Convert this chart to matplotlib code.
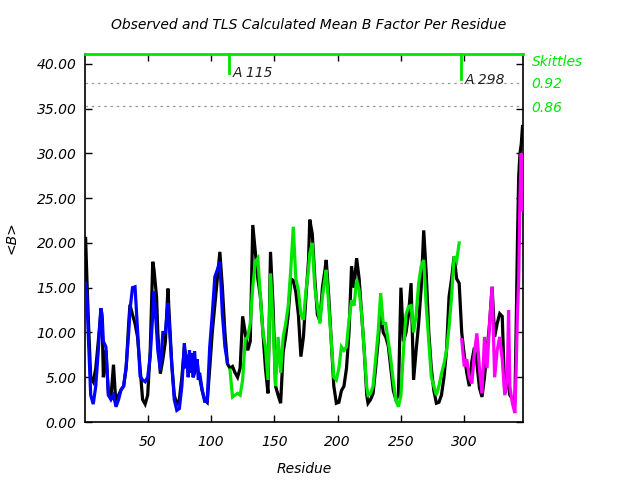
import matplotlib
matplotlib.use("Agg")
import matplotlib.pyplot as plt
import numpy as np

# ---------------- data ----------------
residue = [1, 2, 3, 5, 7, 9, 11, 13, 14, 15, 17, 19, 21, 23, 25, 27, 29, 31, 33, 35,
           36, 38, 40, 42, 44, 46, 48, 50, 52, 54, 55, 57, 58, 60, 62, 64, 66, 67, 69, 71,
           73, 75, 77, 79, 80, 81, 82, 83, 84, 85, 86, 87, 88, 89, 90, 91, 93, 95, 97, 99,
           101, 103, 105, 107, 109, 111,
           113, 115, 117, 119, 121, 123, 125, 127, 129, 131, 133, 135, 137, 139, 141, 143, 145, 147, 149, 151,
           153, 155, 157, 159, 161, 163, 165, 167, 169, 171, 173, 175, 177, 178, 180, 182, 184, 186, 188, 190,
           191, 193, 195, 197, 199, 201, 203, 205, 207, 209, 211, 213, 215, 217, 219, 221, 223, 224, 226, 228,
           230, 232, 234, 236, 238, 240, 242, 244, 246, 248, 250, 252, 254, 256, 258, 260, 262, 264, 266, 268,
           270, 272, 274, 276, 278, 280, 282, 284, 286, 288, 290, 292, 294, 296, 298, 300, 302, 304, 306, 308,
           310, 312, 314, 316, 318, 320, 322, 324, 326, 328, 330, 332, 334, 335, 336, 338, 340, 341, 342, 343,
           344, 345, 346]

b_observed = [20.5, 16, 12, 5, 4.5, 6, 9, 12.3, 11.5, 5, 8, 3, 2.8, 6.4, 1.8, 3, 3.6, 4, 6, 11,
              13.1, 12, 11, 9.5, 6, 2.5, 2, 3, 8, 17.9, 17, 14, 10, 5.4, 7, 9, 14.9, 12, 6.5, 3,
              2, 2.5, 5, 8.4, 7.5, 7, 5.5, 6, 7.5, 7, 5, 5.5, 6.5, 7, 5.5, 5,
              3.5, 2.5, 2.2, 6, 10, 13, 16, 19, 15, 10,
              6.5, 6, 6.2, 5.5, 5, 6, 11.8, 10, 8, 9, 22, 19, 16, 14, 10, 6, 3.2, 19, 13, 4,
              3, 2.1, 7.8, 9.6, 12, 16, 15.8, 14.5, 12, 7.3, 9.5, 14, 18, 22.6, 21, 16, 12, 11.3, 15, 17,
              18.1, 14, 9, 4, 2.1, 2.2, 3.5, 4, 6, 10, 17.4, 15, 18.3, 16, 12, 8, 3, 2.1, 2.5, 3.2,
              6, 9, 12.5, 10, 9.5, 8.5, 6, 3.5, 2.5, 3, 15, 9, 10, 12, 15.5, 4.7, 8, 11, 15, 21.4,
              16.5, 10, 6, 3.5, 2.1, 2.2, 3, 5, 8, 14, 16, 18.5, 16, 15.5, 10, 7.5, 5.5, 4, 6.8, 8.3,
              6.5, 3.8, 2.8, 5, 8, 11, 15.1, 9.5, 11, 12.1, 11.8, 3.2, 5, 4, 3, 2.6, 2.4, 10.6, 20, 27.4,
              30, 31, 33]

b_tls = [15.5, 14, 10, 3, 2, 4, 8, 12.7, 12, 9, 8.4, 3, 2.5, 3, 1.7, 2.5, 3.6, 4, 6.2, 10,
         12.5, 15, 15.1, 10.3, 5.1, 4.7, 4.5, 5, 7.3, 12, 14.6, 10.3, 8, 5.8, 10, 10, 13.3, 11, 6.5, 2.5,
         1.3, 1.5, 4, 8.8, 6, 7.5, 5, 8, 5.5, 7.7, 5, 7.9, 6, 7, 4.7, 5.5,
         3.6, 2.3, 2.3, 8.4, 12, 16.2, 17, 17.9, 12, 8.4,
         6.6, 5.8, 2.8, 3, 3.2, 3, 4.7, 9.2, 9.5, 11, 15.1, 17.9, 18.3, 14, 10, 8.4, 4.7, 16.6, 11, 4,
         9.5, 5.5, 9.5, 11, 13, 17, 21.8, 16, 14.7, 12, 11.4, 14.7, 17, 18.8, 20, 15, 13, 11, 14, 16,
         17, 13, 9, 5, 4.7, 6, 8.4, 8, 8.4, 11.4, 13.6, 13, 15.9, 14.7, 12, 8, 3.9, 3, 3.2, 4,
         7, 10, 14.4, 11, 11, 9, 7, 4.5, 2.5, 1.7, 3, 8, 12, 12.9, 13, 10, 12, 15.5, 17.4, 18.1,
         12.9, 9, 5, 4, 3, 4, 5.4, 6.5, 8, 10.6, 14, 18.5, 18, 20, 9.2, 6.2, 7, 5, 4.3, 7.7,
         9.9, 6, 3.2, 9.5, 6, 11, 15.1, 5, 8, 9.5, 7, 3, 5, 12.5, 4, 2.1, 1, 6, 12, 15.9,
         25, 30, 23.7]

tls_group_starts = [1, 115, 298]
tls_group_labels = ["", "A 115", "A 298"]
tls_colors = ["#0000ff", "#00e600", "#ff00ff"]
corr_values = ["0.92", "0.86"]
corr_levels = [37.9, 35.3]
marker_bottoms = [39.0, 38.3]

x_ticks = [50, 100, 150, 200, 250, 300]
y_ticks = [0, 5, 10, 15, 20, 25, 30, 35, 40]

# ---------------- plot ----------------
plt.rcParams['font.family'] = ['DejaVu Sans']
fig = plt.figure(figsize=(6.4, 4.8), dpi=100)
ax = fig.add_axes([85/640, 58/480, (523-85)/640, (422-54)/480])

res = np.array(residue)
obs = np.array(b_observed)
tls = np.array(b_tls)

ax.plot(res, obs, color='black', lw=2.3, solid_joinstyle='miter', zorder=2)
bounds = tls_group_starts + [res.max() + 1]
for i in range(len(tls_group_starts)):
    m = (res >= bounds[i]) & (res < bounds[i+1])
    ax.plot(res[m], tls[m], color=tls_colors[i], lw=2.3, solid_joinstyle='miter', zorder=3)

ymax = 41.1
ax.set_xlim(0.5, 346.4)
ax.set_ylim(0, ymax)

green = '#00e600'
for lvl in corr_levels:
    ax.axhline(lvl, color='#999999', lw=0.9, ls=(0, (2, 3)), zorder=1)

for s, lab, yb in zip(tls_group_starts[1:], tls_group_labels[1:], marker_bottoms):
    ax.plot([s - 0.5, s - 0.5], [yb, ymax], color=green, lw=2, zorder=4, clip_on=False)
    ax.text(s + 2.5, yb - 0.05, lab, fontsize=10, style='italic', color='#222222',
            ha='left', va='center')

# right-hand labels
ax.text(1.02, 40.2, "Skittles", transform=ax.get_yaxis_transform(), color=green,
        fontsize=10, style='italic', ha='left', va='center')
for lvl, txt in zip(corr_levels, corr_values):
    ax.text(1.02, lvl - 0.2, txt, transform=ax.get_yaxis_transform(), color=green,
            fontsize=10, style='italic', ha='left', va='center')

for sp in ['left', 'right', 'bottom']:
    ax.spines[sp].set_linewidth(1.2)
ax.spines['top'].set_color(green)
ax.spines['top'].set_linewidth(2)

ax.set_xticks(x_ticks)
ax.set_yticks(y_ticks)
ax.set_yticklabels([f"{v:.2f}" for v in y_ticks])
ax.tick_params(direction='in', top=True, right=True, length=5, width=1,
               labelsize=10)
for lbl in ax.get_xticklabels() + ax.get_yticklabels():
    lbl.set_fontstyle('italic')
ax.tick_params(axis='x', pad=9)
ax.tick_params(axis='y', pad=6)

ax.set_xlabel("Residue", fontsize=10, style='italic', labelpad=10)
ax.set_ylabel("<B>", fontsize=10, style='italic', labelpad=13)
fig.text(309/640, 1 - 25/480, "Observed and TLS Calculated Mean B Factor Per Residue",
         ha='center', va='center', fontsize=10, style='italic')

fig.savefig("out.png", dpi=100)
